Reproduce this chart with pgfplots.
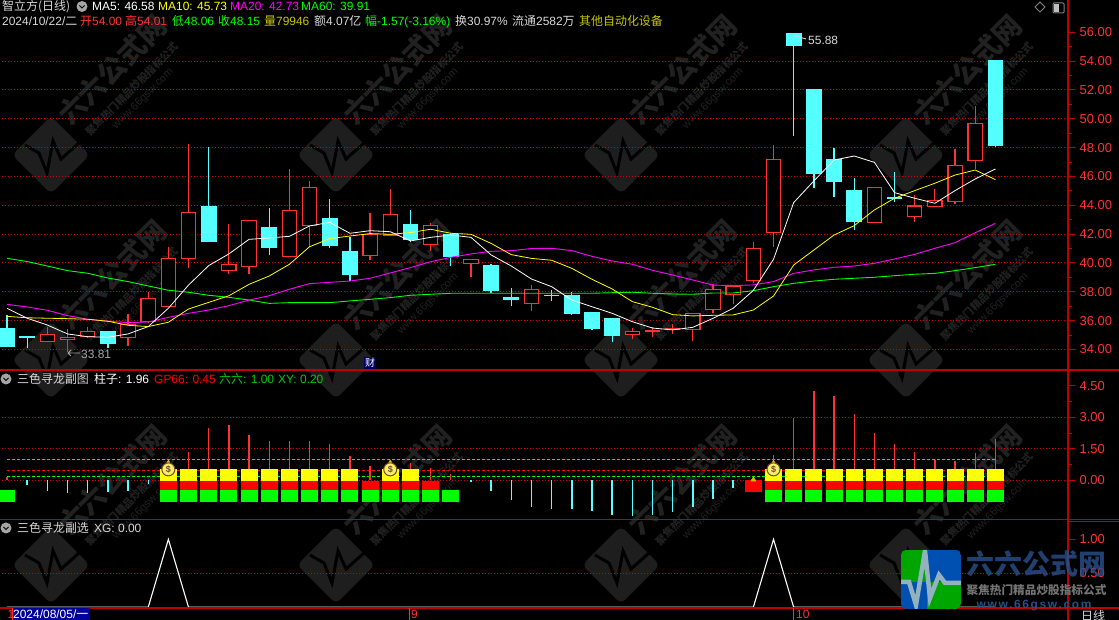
\documentclass[border=0pt]{standalone}
\usepackage{fontspec}
\usepackage{pgfplots}
\usepackage{pgfplotstable}
\usepgfplotslibrary{statistics}
\pgfplotsset{compat=1.18}
\setmainfont{Liberation Sans}
\newfontfamily\cjk{Noto Sans CJK SC}
\newfontfamily\wwwfont[LetterSpace=14]{Liberation Sans}
\definecolor{cRed}{HTML}{FF3232}
\definecolor{cCyan}{HTML}{54FFFF}
\definecolor{cGrid}{HTML}{D00000}
\definecolor{cAxis}{HTML}{C00000}
\definecolor{cGray}{HTML}{D8D8D8}
\definecolor{cYel}{HTML}{FFFF00}
\definecolor{cGold}{HTML}{C8C800}
\definecolor{cMag}{HTML}{FF00FF}
\definecolor{cGrn}{HTML}{00FF00}
\definecolor{cDrk}{HTML}{1E1E1E}
\definecolor{cDrkT}{HTML}{212121}
\definecolor{cBlu}{HTML}{27508C}

\pgfplotstableread{
i ma5 ma10 ma20 ma60
0 36.86 36.30 37.13 40.33
1 36.17 36.20 36.95 40.10
2 35.70 36.17 36.72 39.79
3 35.08 36.14 36.35 39.47
4 34.89 36.10 36.10 39.29
5 34.85 35.96 35.96 38.96
6 35.08 35.68 35.86 38.71
7 35.59 35.59 35.91 38.41
8 36.86 35.89 36.23 38.11
9 38.47 36.81 36.51 37.97
10 39.82 37.27 36.74 37.76
11 40.63 37.73 37.04 37.62
12 41.64 38.52 37.43 37.43
13 41.74 39.10 37.73 37.20
14 41.85 39.91 38.18 37.25
15 42.57 41.13 38.57 37.25
16 42.82 41.69 38.66 37.25
17 42.06 41.87 38.75 37.37
18 42.24 42.04 38.94 37.48
19 42.17 41.99 39.31 37.60
20 41.53 42.11 39.68 37.76
21 41.78 42.34 40.09 37.83
22 41.94 42.06 40.39 37.90
23 41.78 41.99 40.63 37.90
24 40.56 41.36 40.81 37.90
25 39.79 40.58 40.86 37.90
26 38.89 40.32 41.00 37.90
27 38.36 40.19 41.02 37.90
28 37.43 39.63 40.86 37.90
29 36.97 38.87 40.46 37.90
30 36.51 38.20 40.14 37.94
31 35.93 37.32 39.91 37.97
32 35.49 36.93 39.49 37.90
33 35.36 36.42 39.17 37.85
34 35.54 36.33 38.82 37.83
35 36.16 36.37 38.47 37.92
36 36.86 36.40 38.43 37.92
37 38.10 36.74 38.48 38.08
38 40.26 37.71 38.71 38.36
39 44.19 39.86 39.28 38.59
40 45.69 40.90 39.52 38.75
41 47.14 41.94 39.70 38.87
42 47.42 42.59 39.79 38.94
43 46.98 43.68 39.98 39.01
44 44.88 44.49 40.28 39.12
45 44.49 45.02 40.60 39.22
46 44.14 45.53 41.02 39.28
47 45.02 46.10 41.41 39.47
48 45.83 46.45 42.10 39.68
49 46.52 45.78 42.75 39.91
}\maline

% one candle: x, low, body bottom, body top, high
\newcommand{\cdl}[6]{\addplot[#6,boxplot prepared={draw direction=y,draw position=#1,lower whisker=#2,lower quartile=#3,median=#3,upper quartile=#4,upper whisker=#5,box extend=0.71,whisker extend=0}] coordinates {};}
\tikzset{up/.style={draw=cRed,fill=black,line width=1.2bp},dn/.style={draw=cCyan,fill=cCyan,line width=1.3bp}}
\pgfplotsset{panel/.style={
  scale only axis, width=1068bp, xmin=-0.347, xmax=52.6,
  anchor=south west, axis x line=none, axis y line*=right,
  axis line style={color=cAxis,line width=1.2bp},
  ytick style={color=cAxis,line width=1bp},
  tick align=outside, major tick length=7bp, minor tick length=3.5bp,
  yticklabel style={text=cRed,font=\fontsize{13}{13}\selectfont,xshift=1bp,/pgf/number format/.cd,fixed,fixed zerofill,precision=2,assume math mode=true},
  minor y tick num=1,
}}
\tikzset{griddot/.style={color=cGrid,line width=1bp,dash pattern=on 1bp off 2bp}}

\newcommand{\lbl}[4]{\node[anchor=base west,inner sep=0pt,text=#3,font=\fontsize{12}{13}\selectfont] at (#1,{620-#2-4.5}) {#4};}
\newcommand{\icon}[2]{\fill[gray!70] (#1,{620-#2}) circle (5.5);\draw[black,line width=1bp] (#1-2.5,{620-#2+1}) -- (#1,{620-#2-1.5}) -- (#1+2.5,{620-#2+1});}
% background mark of the screenshot
\newcommand{\wmd}[2]{\begin{scope}[shift={(#1,{620-#2})}]
  \node[rotate=45,fill=cDrk,rounded corners=6bp,minimum size=55bp,inner sep=0pt] {};
  \draw[color=cDrkT!130,line width=3bp] (-26,10) -- (-12,2) -- (-4,-18) -- (2,14) -- (10,-4) -- (28,12);
\end{scope}}
\newcommand{\wmt}[2]{\begin{scope}[shift={(#1,{620-#2})}]
  \node[rotate=45,text=cDrkT,font=\cjk\bfseries\fontsize{28}{28}\selectfont,inner sep=0pt] {六六公式网};
  \node[rotate=45,text=cDrkT,font=\cjk\bfseries\fontsize{10.5}{11}\selectfont,inner sep=0pt] at (20,-19) {聚焦热门精品炒股指标公式};
  \node[rotate=45,text=cDrkT,font=\fontsize{11}{11}\selectfont,inner sep=0pt] at (31,-29) {www.66gsw.com};
\end{scope}}

\begin{document}
\begin{tikzpicture}[x=1bp,y=1bp]
\useasboundingbox (0,0) rectangle (1119,620);
\fill[black] (0,0) rectangle (1119,620);

% watermarks
\foreach \cx in {51,336,621,906}{\foreach \cy in {155,360,565}{\wmd{\cx}{\cy}}}
\foreach \cx in {112,397,682,967}{\foreach \cy in {70,275,480}{\wmt{\cx}{\cy}}}

% price panel
\begin{axis}[panel, at={(0bp,250bp)}, height=370bp,
  ymin=32.58, ymax=58.24, ytick={34,36,...,56}]
\pgfplotsinvokeforeach{34,36,...,54}{\addplot[griddot] coordinates {(-1,#1) (53,#1)};}
\cdl{0}{34.15}{34.25}{35.42}{36.40}{dn}
\cdl{1}{34.13}{34.85}{34.89}{34.89}{dn}
\cdl{2}{34.55}{34.55}{35.05}{35.59}{up}
\cdl{3}{33.81}{34.69}{34.85}{35.40}{up}
\cdl{4}{34.85}{34.89}{35.26}{35.59}{up}
\cdl{5}{34.11}{34.41}{35.26}{35.26}{dn}
\cdl{6}{34.25}{34.83}{35.73}{36.47}{up}
\cdl{7}{35.82}{35.93}{37.55}{38.00}{up}
\cdl{8}{36.97}{36.97}{40.33}{41.09}{up}
\cdl{9}{39.68}{40.33}{43.52}{48.25}{up}
\cdl{10}{41.53}{41.53}{43.88}{48.02}{dn}
\cdl{11}{39.26}{39.49}{39.91}{42.71}{up}
\cdl{12}{39.24}{39.75}{42.96}{42.96}{up}
\cdl{13}{40.56}{41.11}{42.43}{43.82}{dn}
\cdl{14}{40.44}{40.44}{43.65}{46.52}{up}
\cdl{15}{41.13}{42.59}{45.25}{45.69}{up}
\cdl{16}{41.04}{41.25}{43.05}{44.44}{dn}
\cdl{17}{38.75}{39.24}{40.77}{41.83}{dn}
\cdl{18}{40.21}{40.51}{41.97}{43.47}{up}
\cdl{19}{41.94}{41.94}{43.38}{45.13}{up}
\cdl{20}{41.48}{41.64}{42.64}{43.68}{dn}
\cdl{21}{40.86}{41.27}{42.61}{42.75}{up}
\cdl{22}{39.82}{40.49}{41.94}{42.06}{dn}
\cdl{23}{39.03}{39.95}{40.26}{40.26}{up}
\cdl{24}{37.90}{38.13}{39.79}{39.93}{dn}
\cdl{25}{37.02}{37.47}{37.60}{38.27}{dn}
\cdl{26}{36.70}{37.18}{38.17}{38.45}{up}
\cdl{27}{37.39}{37.73}{37.77}{38.13}{dn}
\cdl{28}{36.40}{36.53}{37.71}{37.99}{dn}
\cdl{29}{35.36}{35.49}{36.53}{36.60}{dn}
\cdl{30}{34.52}{35.01}{36.12}{36.12}{dn}
\cdl{31}{34.73}{35.03}{35.26}{35.49}{up}
\cdl{32}{34.87}{35.24}{35.33}{35.59}{up}
\cdl{33}{35.08}{35.38}{35.47}{35.77}{up}
\cdl{34}{34.59}{35.38}{36.51}{36.51}{up}
\cdl{35}{36.53}{36.75}{38.17}{38.52}{up}
\cdl{36}{37.16}{37.80}{38.41}{38.41}{up}
\cdl{37}{38.59}{38.80}{41.02}{41.48}{up}
\cdl{38}{41.13}{42.13}{47.19}{48.18}{up}
\cdl{39}{48.81}{55.12}{55.88}{55.88}{dn}
\cdl{40}{45.22}{46.24}{52.00}{52.00}{dn}
\cdl{41}{44.60}{45.69}{47.14}{47.98}{dn}
\cdl{42}{42.29}{42.87}{45.00}{45.90}{dn}
\cdl{43}{42.75}{42.82}{45.25}{45.25}{up}
\cdl{44}{44.25}{44.48}{44.52}{46.31}{dn}
\cdl{45}{42.84}{43.21}{43.95}{44.72}{up}
\cdl{46}{43.91}{43.91}{44.35}{45.11}{up}
\cdl{47}{44.11}{44.25}{46.77}{47.93}{up}
\cdl{48}{46.54}{47.12}{49.69}{50.89}{up}
\cdl{49}{48.06}{48.18}{54.01}{54.01}{dn}
\addplot[color=cGrn,line width=.9bp] table[x=i,y=ma60] {\maline};
\addplot[color=cMag,line width=.9bp] table[x=i,y=ma20] {\maline};
\addplot[color=cYel,line width=.8bp] table[x=i,y=ma10] {\maline};
\addplot[color=white,line width=.8bp] table[x=i,y=ma5] {\maline};
\end{axis}

% indicator panel
\begin{axis}[panel, at={(0bp,100.3bp)}, height=149.7bp,
  ymin=-1.876, ymax=5.252, ytick={0,1.5,3,4.5}]
\pgfplotsinvokeforeach{0,1.5,3}{\addplot[griddot] coordinates {(-1,#1) (53,#1)};}
\addplot[color=cGrn,line width=1.1bp,dash pattern=on 3bp off 2bp] coordinates {(0,1) (49,1)};
\addplot[color=cGrn,line width=1.1bp,dash pattern=on 3bp off 2bp] coordinates {(0,0.2) (49,0.2)};
\addplot[color=red,line width=1.1bp,dash pattern=on 3bp off 2bp] coordinates {(0,0.45) (49,0.45)};
\addplot[ycomb,color=cRed,line width=1.3bp] coordinates {
  (0,0.17) (8,0.5) (9,1.35) (10,2.49) (11,2.63) (12,2.16) (13,1.87) (14,1.87) (15,1.87)
  (16,1.73) (17,1.16) (18,0.68) (19,0.7) (20,0.83) (21,0.59) (22,0.30) (37,0.2)
  (38,1.21) (39,2.97) (40,4.25) (41,4.02) (42,3.16) (43,2.25) (44,1.73) (45,1.35)
  (46,0.97) (47,0.92) (48,1.30) (49,1.97)};
\addplot[ycomb,color=cCyan,line width=1.4bp] coordinates {
  (1,-0.22) (2,-0.49) (3,-0.60) (4,-0.60) (5,-0.56) (6,-0.49) (7,-0.17) (23,-0.08)
  (24,-0.49) (25,-0.94) (26,-1.27) (27,-1.37) (28,-1.37) (29,-1.46) (30,-1.65)
  (31,-1.70) (32,-1.65) (33,-1.51) (34,-1.27) (35,-0.89) (36,-0.37)};
% green, red and yellow blocks
\addplot[draw=none,no markers,error bars/.cd,y dir=both,y fixed=0.2855,error mark=none,
  error bar style={line width=17bp,draw=cGrn}] coordinates {
  (0,-0.7475) (8,-0.7475) (9,-0.7475) (10,-0.7475) (11,-0.7475) (12,-0.7475) (13,-0.7475)
  (14,-0.7475) (15,-0.7475) (16,-0.7475) (17,-0.7475) (18,-0.7475) (19,-0.7475) (20,-0.7475)
  (21,-0.7475) (22,-0.7475) (38,-0.7475) (39,-0.7475) (40,-0.7475) (41,-0.7475) (42,-0.7475)
  (43,-0.7475) (44,-0.7475) (45,-0.7475) (46,-0.7475) (47,-0.7475) (48,-0.7475) (49,-0.7475)};
\addplot[draw=none,no markers,error bars/.cd,y dir=both,y fixed=0.2145,error mark=none,
  error bar style={line width=17bp,draw=red}] coordinates {
  (8,-0.2475) (9,-0.2475) (10,-0.2475) (11,-0.2475) (12,-0.2475) (13,-0.2475) (14,-0.2475)
  (15,-0.2475) (16,-0.2475) (17,-0.2475) (18,-0.2475) (19,-0.2475) (20,-0.2475) (21,-0.2475)
  (38,-0.2475) (39,-0.2475) (40,-0.2475) (41,-0.2475) (42,-0.2475) (43,-0.2475) (44,-0.2475)
  (45,-0.2475) (46,-0.2475) (47,-0.2475) (48,-0.2475) (49,-0.2475)};
\addplot[only marks,mark=triangle*,mark size=3bp,color=cGold!80!orange] coordinates {(37,0.03)};
\addplot[draw=none,no markers,error bars/.cd,y dir=both,y fixed=0.28,error mark=none,
  error bar style={line width=17bp,draw=red}] coordinates {(37,-0.28)};
\addplot[draw=none,no markers,error bars/.cd,y dir=both,y fixed=0.2855,error mark=none,
  error bar style={line width=17bp,draw=cYel}] coordinates {
  (8,0.2525) (9,0.2525) (10,0.2525) (11,0.2525) (12,0.2525) (13,0.2525) (14,0.2525) (15,0.2525)
  (16,0.2525) (17,0.2525) (19,0.2525) (20,0.2525)
  (38,0.2525) (39,0.2525) (40,0.2525) (41,0.2525) (42,0.2525) (43,0.2525) (44,0.2525) (45,0.2525)
  (46,0.2525) (47,0.2525) (48,0.2525) (49,0.2525)};
% money bags
\addplot[only marks,mark=triangle*,mark size=2.5bp,color=brown!50!yellow] coordinates {(8,0.85) (19,0.85) (38,0.85)};
\addplot[only marks,mark=*,mark size=6.5bp,mark options={fill=brown!25!yellow!60!white,draw=brown!60!black,line width=1bp},
  nodes near coords={\$},nodes near coords align={center},
  every node near coord/.style={text=brown!60!black,font=\bfseries\fontsize{9}{9}\selectfont,inner sep=0pt}]
  coordinates {(8,0.52) (19,0.52) (38,0.52)};
\end{axis}

% selection panel
\begin{axis}[panel, at={(0bp,12bp)}, height=88.3bp,
  ymin=-0.0103, ymax=1.288, ytick={0.5,1}, minor y tick num=1]
\addplot[griddot] coordinates {(-1,0.5) (53,0.5)};
\addplot[color=white,line width=1.1bp] coordinates {
  (0,0) (7,0) (8,1) (9,0) (37,0) (38,1) (39,0) (49,0)};
\end{axis}

% frame
\draw[cAxis,line width=1.4bp] (0,250) -- (1119,250);
\draw[cAxis,line width=1.4bp] (0,100.3) -- (1119,100.3);
\draw[cAxis,line width=1.4bp] (0,12) -- (1119,12);
\draw[cAxis,line width=1.2bp] (1068,620) -- (1068,0);
\draw[cAxis,line width=2bp] (1068,12) -- (1068,100.3);
\draw[cAxis,line width=1bp] (1068,98.6) -- (1119,98.6);

% header
\lbl{2}{6.5}{cGray}{{\cjk 智立方(日线)}}
\icon{82}{6.5}
\lbl{92}{6.5}{white}{MA5: 46.58}
\lbl{158}{6.5}{cYel}{MA10: 45.73}
\lbl{230}{6.5}{cMag}{MA20: 42.73}
\lbl{301}{6.5}{cGrn}{MA60: 39.91}
\lbl{2}{21}{cGray}{2024/10/22/{\cjk 二}}
\lbl{80}{21}{cRed}{{\cjk 开}54.00}
\lbl{125}{21}{cRed}{{\cjk 高}54.01}
\lbl{172}{21}{cGrn}{{\cjk 低}48.06}
\lbl{218}{21}{cGrn}{{\cjk 收}48.15}
\lbl{264}{21}{cGold}{{\cjk 量}79946}
\lbl{314}{21}{cGray}{{\cjk 额}4.07{\cjk 亿}}
\lbl{365}{21}{cGrn}{{\cjk 幅}-1.57(-3.16\%)}
\lbl{455}{21}{cGray}{{\cjk 换}30.97\%}
\lbl{512}{21}{cGray}{{\cjk 流通}2582{\cjk 万}}
\lbl{579}{21}{cGold}{{\cjk 其他自动化设备}}

\icon{6}{379}
\lbl{17}{379}{cGray}{{\cjk 三色寻龙副图}}
\lbl{94}{379}{white}{{\cjk 柱子}: 1.96}
\lbl{154}{379}{red}{GP66: 0.45}
\lbl{219}{379}{cGrn!80!black}{{\cjk 六六}: 1.00}
\lbl{278}{379}{cGrn!80!black}{XY: 0.20}
\icon{6}{528}
\lbl{17}{528}{cGray}{{\cjk 三色寻龙副选}}
\lbl{94}{528}{cGray}{XG: 0.00}

% price notes
\lbl{81}{354}{gray!70!white}{33.81}
\draw[gray!70!white,line width=.9bp] (68,{620-353}) -- (80,{620-353}) (68,{620-353}) -- (71,{620-350}) (68,{620-353}) -- (71,{620-356});
\lbl{808}{40}{cGray}{55.88}
\draw[cGray,line width=.9bp] (795,{620-36}) -- (806,{620-39});
\node[fill=blue!40!black,text=white,font=\cjk\fontsize{10}{10}\selectfont,minimum size=12bp,inner sep=0pt] at (370,{620-363}) {财};

% top right buttons
\draw[gray,line width=.9bp] (1040,{620-2}) -- (1045,{620-7}) -- (1040,{620-12}) -- (1035,{620-7}) -- cycle;
\draw[gray,line width=1bp,rounded corners=1bp] (1053,{620-3}) rectangle (1064,{620-13});
\fill[gray!50] (1054,{620-4}) rectangle (1058.5,{620-12});

% date strip
\fill[blue!60!black] (12,0) rectangle (90,11.5);
\node[anchor=base west,inner sep=0pt,text=white,font=\fontsize{12}{13}\selectfont] at (13,1) {2024/08/05/{\cjk 一}};
\draw[cRed,line width=.8bp] (12,12) -- (12,0) (409.5,12) -- (409.5,0) (793,12) -- (793,0);
\node[anchor=base west,inner sep=0pt,text=cRed,font=\fontsize{12}{13}\selectfont] at (7.5,1) {1};
\node[anchor=base west,inner sep=0pt,text=cRed,font=\fontsize{12}{13}\selectfont] at (411,1) {9};
\node[anchor=base west,inner sep=0pt,text=cRed,font=\fontsize{12}{13}\selectfont] at (796,1) {10};
\node[anchor=base west,inner sep=0pt,text=cGray,font=\cjk\fontsize{12}{12}\selectfont] at (1081,-1) {日线};

% logo, bottom right
\begin{scope}
\clip[rounded corners=5bp] (901,{620-550}) rectangle (961,{620-609});
\fill[green!65!black] (901,{620-550}) rectangle (927,{620-582});
\fill[blue!55!cyan!70!black] (927,{620-550}) rectangle (961,{620-582});
\fill[blue!55!cyan!70!black] (901,{620-582}) rectangle (927,{620-609});
\fill[green!65!black] (927,{620-582}) rectangle (961,{620-609});
\draw[gray!70!cyan!80!white,line width=4.5bp] (901,{620-582}) -- (909,{620-582}) -- (916,{620-605}) -- (925,{620-551}) -- (930,{620-598}) -- (939,{620-575}) -- (945,{620-583}) -- (961,{620-583});
\end{scope}
\node[text=cBlu,text opacity=.8,font=\cjk\bfseries\fontsize{28}{28}\selectfont,inner sep=0pt] at (1036.5,{620-564}) {六六公式网};
\node[text=gray!90!black,font=\cjk\bfseries\fontsize{11.7}{12}\selectfont,inner sep=0pt] at (1036.5,{620-590}) {聚焦热门精品炒股指标公式};
\node[text=cBlu,font=\wwwfont\bfseries\fontsize{12}{12}\selectfont,inner sep=0pt] at (1034,{620-606}) {www.66gsw.com};
\end{tikzpicture}
\end{document}
